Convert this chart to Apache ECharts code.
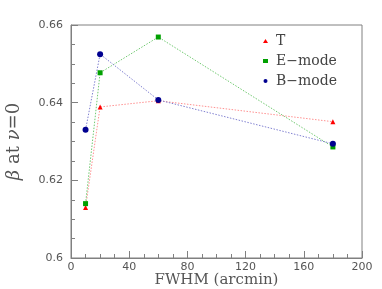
<!DOCTYPE html>
<html><head><meta charset="utf-8">
<script src="https://cdn.jsdelivr.net/npm/echarts@6/dist/echarts.min.js"></script>
<style>html,body{margin:0;padding:0;background:#fff}#c{width:382px;height:289px}</style>
</head><body><div id="c"></div>
<script>
const fwhm = [10, 20, 60, 180];
const tValues = [0.6130, 0.6389, 0.6405, 0.6351];
const eValues = [0.6140, 0.6477, 0.6569, 0.6286];
const bValues = [0.6330, 0.6525, 0.6407, 0.6294];
const seriesNames = ['T', 'E\u2212mode', 'B\u2212mode'];

const chart = echarts.init(document.getElementById('c'), null, {renderer: 'canvas'});
const pairs = v => fwhm.map((x, i) => [x, v[i]]);
const axisCol = '#808080';
function mk(name, vals, sym, symSize, markCol, lineCol) {
  return {
    name: name, type: 'line', data: pairs(vals), symbol: sym, symbolSize: symSize,
    itemStyle: {color: markCol},
    lineStyle: {color: lineCol, width: 1, type: [1.5, 1.5]},
    emphasis: {disabled: true}, animation: false, z: 3
  };
}
chart.setOption({
  animation: false,
  grid: {left: 71, right: 20, top: 25, bottom: 31, show: true, borderColor: axisCol, borderWidth: 1,
    containLabel: false, outerBoundsMode: 'none'},
  legend: {
    orient: 'vertical', left: 258, top: 29, itemWidth: 5, itemHeight: 4, itemGap: 6,
    textStyle: {fontFamily: 'DejaVu Serif', fontSize: 14, color: '#444', padding: [0, 0, 0, 3]},
    data: [
      {name: seriesNames[0], icon: 'triangle'},
      {name: seriesNames[1], icon: 'rect'},
      {name: seriesNames[2], icon: 'circle'}
    ],
    selectedMode: false
  },
  xAxis: {
    type: 'value', min: 0, max: 200, interval: 40,
    name: 'FWHM (arcmin)', nameLocation: 'middle', nameGap: 15, nameMoveOverlap: false,
    nameTextStyle: {fontFamily: 'DejaVu Serif', fontSize: 15, color: '#555'},
    axisLine: {show: true, lineStyle: {color: axisCol}},
    axisTick: {show: true, inside: true, length: 7, lineStyle: {color: axisCol}},
    minorTick: {show: true, splitNumber: 4, length: 4, lineStyle: {color: axisCol}},
    axisLabel: {color: '#555', fontFamily: 'DejaVu Sans', fontSize: 11, margin: 4},
    splitLine: {show: false}
  },
  yAxis: {
    type: 'value', min: 0.6, max: 0.66, interval: 0.02,
    name: '{g|β} at {g|ν}=0', nameLocation: 'middle', nameGap: 48, nameMoveOverlap: false,
    nameTextStyle: {fontFamily: 'DejaVu Serif', fontSize: 18, color: '#555',
      rich: {g: {fontFamily: 'DejaVu Serif', fontStyle: 'italic', fontSize: 18, color: '#555'}}},
    axisLine: {show: true, lineStyle: {color: axisCol}},
    axisTick: {show: true, inside: true, length: 7, lineStyle: {color: axisCol}},
    minorTick: {show: true, splitNumber: 4, length: 4, lineStyle: {color: axisCol}},
    axisLabel: {color: '#555', fontFamily: 'DejaVu Sans', fontSize: 11, margin: 8,
      formatter: v => String(+v.toFixed(2))},
    splitLine: {show: false}
  },
  series: [
    mk(seriesNames[0], tValues, 'triangle', 5, '#ff0000', '#ff9090'),
    mk(seriesNames[1], eValues, 'rect', 5, '#00a000', '#70c870'),
    mk(seriesNames[2], bValues, 'circle', 6, '#000090', '#8080d0')
  ]
});
</script></body></html>
